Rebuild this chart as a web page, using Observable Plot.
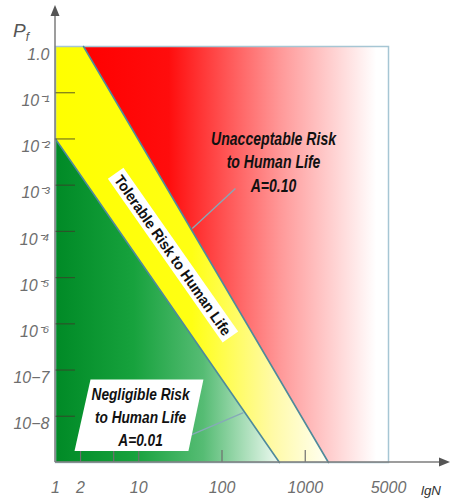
<!DOCTYPE html>
<html>
<head>
<meta charset="utf-8">
<script src="https://cdn.jsdelivr.net/npm/d3@7"></script>
<script src="https://cdn.jsdelivr.net/npm/@observablehq/plot@0.6"></script>
<style>
  html, body { margin: 0; padding: 0; background: #fff; }
</style>
</head>
<body>
<div id="chart"></div>
<script>
// ---------- data ----------
const nDomain = [1, 10000];
const pDomain = [1e-9, 1];

const nTicks = [1, 2, 5, 10, 100, 1000, 10000];
const nTickLabels = ["1", "2", "5", "10", "100", "1000", "5000"];
const nTickMarks = [2, 5, 10, 100, 1000];

const pTicks = [1, 1e-1, 1e-2, 1e-3, 1e-4, 1e-5, 1e-6, 1e-7, 1e-8];
const pTickLabels = ["1.0", "10⁻¹", "10⁻²", "10⁻³", "10⁻⁴", "10⁻⁵", "10⁻⁶", "10−7", "10−8"];
const pTickMarks = [1e-1, 1e-2, 1e-3, 1e-4, 1e-5, 1e-6, 1e-7, 1e-8];

// criterion lines (end points on the frame)
const upperLineN = [2.17, 1900];   // A = 0.10
const upperLineP = [1, 1e-9];
const lowerLineN = [1, 490];       // A = 0.01
const lowerLineP = [1e-2, 1e-9];

// region labels
const labelTexts = ["Unacceptable Risk\nto Human Life\nA=0.10", "Tolerable Risk to Human Life", "Negligible Risk\nto Human Life\nA=0.01"];
const labelN = [416, 25.4, 10.5];
const labelP = [3.4e-3, 3.0e-5, 1.05e-8];
const labelWidths = [125, 192, 98];   // width of first line (px, as in the picture)

// leader lines from labels to criterion lines
const leaderN1 = [145, 33.5];
const leaderP1 = [8.5e-4, 3.3e-9];
const leaderN2 = [44, 181];
const leaderP2 = [1.15e-4, 1.2e-8];

// ---------- derived tables ----------
const pt = (N, P) => ({N, P});
const redRegion = [
  pt(upperLineN[0], upperLineP[0]), pt(nDomain[1], pDomain[1]),
  pt(nDomain[1], pDomain[0]), pt(upperLineN[1], upperLineP[1])
];
const yellowRegion = [
  pt(nDomain[0], pDomain[1]), pt(upperLineN[0], upperLineP[0]),
  pt(upperLineN[1], upperLineP[1]), pt(lowerLineN[1], lowerLineP[1]),
  pt(lowerLineN[0], lowerLineP[0])
];
const greenRegion = [
  pt(lowerLineN[0], lowerLineP[0]), pt(lowerLineN[1], lowerLineP[1]),
  pt(nDomain[0], pDomain[0])
];
const upperLine = upperLineN.map((N, i) => pt(N, upperLineP[i]));
const lowerLine = lowerLineN.map((N, i) => pt(N, lowerLineP[i]));
const labels = labelTexts.map((t, i) => ({t, N: labelN[i], P: labelP[i]}));
const leaders = leaderN1.map((n, i) => ({x1: n, y1: leaderP1[i], x2: leaderN2[i], y2: leaderP2[i]}));

const labelFont = "'Liberation Sans', Arial, sans-serif";
const axisFont = "'Liberation Sans', Arial, sans-serif";

const plot = Plot.plot({
  width: 450,
  height: 498,
  marginLeft: 55,
  marginRight: 62,
  marginTop: 46,
  marginBottom: 36,
  style: {background: "#fff", fontFamily: axisFont, overflow: "visible"},
  x: {type: "log", domain: nDomain},
  y: {type: "log", domain: pDomain},
  marks: [
    Plot.line(redRegion, {x: "N", y: "P", fill: "url(#redGrad)", stroke: "none"}),
    Plot.line(yellowRegion, {x: "N", y: "P", fill: "url(#yellowGrad)", stroke: "none"}),
    Plot.line(greenRegion, {x: "N", y: "P", fill: "url(#greenGrad)", stroke: "none"}),
    Plot.frame({stroke: "#a6c6d4", strokeWidth: 1.5}),
    Plot.line(upperLine, {x: "N", y: "P", stroke: "#4f8a9b", strokeWidth: 1.6}),
    Plot.line(lowerLine, {x: "N", y: "P", stroke: "#4f8a9b", strokeWidth: 1.6}),
    Plot.ruleY(pTickMarks, {y: d => d, stroke: "#3d3d2a", strokeOpacity: 0.7, strokeWidth: 1.2, insetRight: 313}),
    Plot.ruleX(nTickMarks, {x: d => d, stroke: "#6f6f6f", strokeWidth: 1.2, insetTop: 404}),
    Plot.link(leaders, {x1: "x1", y1: "y1", x2: "x2", y2: "y2", stroke: "#86a9b8", strokeWidth: 1.3}),
    Plot.text([labels[0]], {x: "N", y: "P", text: "t", fontSize: 17.5, fontWeight: "bold", fontStyle: "italic", fontFamily: labelFont, lineHeight: 1.34, fill: "#111"}),
    Plot.text([labels[1]], {x: "N", y: "P", text: "t", fontSize: 15, fontWeight: "bold", fontFamily: labelFont, rotate: 55, fill: "#111"}),
    Plot.text([labels[2]], {x: "N", y: "P", text: "t", fontSize: 16, fontWeight: "bold", fontStyle: "italic", fontFamily: labelFont, lineHeight: 1.45, fill: "#111"}),
    Plot.axisY({ticks: pTicks, tickFormat: d => pTickLabels[pTicks.indexOf(d)], tickSize: 0, tickPadding: 6, dy: 8,
      fontSize: 16, fontStyle: "italic", color: "#6e6e6e", label: null}),
    Plot.axisX({ticks: nTicks, tickFormat: d => nTickLabels[nTicks.indexOf(d)], tickSize: 0, tickPadding: 19,
      fontSize: 16, fontStyle: "italic", color: "#6e6e6e", label: null})
  ]
});

document.getElementById("chart").appendChild(plot);

// ---------- decorations ----------
const svg = d3.select(plot);
const defs = svg.insert("defs", ":first-child");
function grad(id, stops) {
  const g = defs.append("linearGradient").attr("id", id)
    .attr("x1", 0).attr("x2", 1).attr("y1", 0).attr("y2", 0);
  stops.forEach(([o, c]) => g.append("stop").attr("offset", o).attr("stop-color", c));
}
grad("redGrad", [[0, "#ff0000"], [0.28, "#ff0d0d"], [0.65, "#ff9a9a"], [0.96, "#ffffff"], [1, "#ffffff"]]);
grad("yellowGrad", [[0, "#ffff00"], [0.5, "#ffff14"], [0.8, "#fffaa8"], [1, "#fffff4"]]);
grad("greenGrad", [[0, "#008a26"], [0.35, "#17a23d"], [0.66, "#56bc74"], [1, "#effaf2"]]);

// condense label glyphs (the original uses a narrow typeface)
function squeeze(el, firstLineWidth) {
  const spans = el.querySelectorAll("tspan");
  const items = spans.length ? Array.from(spans) : [el];
  const f = firstLineWidth / items[0].getComputedTextLength();
  items.forEach(s => {
    s.setAttribute("textLength", s.getComputedTextLength() * f);
    s.setAttribute("lengthAdjust", "spacingAndGlyphs");
  });
}

svg.selectAll("text").each(function () {
  const s = this.textContent;
  const idx = labelTexts.findIndex(t => t.replace(/\n/g, "") === s);
  if (idx < 0) return;
  squeeze(this, labelWidths[idx]);
  const b = this.getBBox();
  if (idx === 1) {
    d3.select(this.parentNode).insert("rect", () => this)
      .attr("x", b.x - 4).attr("y", b.y - 1).attr("width", b.width + 8).attr("height", b.height + 2)
      .attr("fill", "#fff").attr("transform", this.getAttribute("transform"));
  } else if (idx === 2) {
    const x0 = b.x, x1 = b.x + b.width, y0 = b.y - 6, y1 = b.y + b.height + 2;
    d3.select(this.parentNode).insert("path", () => this)
      .attr("d", `M${x0 - 1},${y0}L${x1 + 13},${y0}L${x1 - 2},${y1}L${x0 - 17},${y1}Z`)
      .attr("fill", "#fff").attr("transform", this.getAttribute("transform"));
  }
});

// axis lines with arrow heads
const sx = plot.scale("x"), sy = plot.scale("y");
const ox = sx.apply(nDomain[0]), oy = sy.apply(pDomain[0]);
const ax = svg.append("g");
ax.append("line").attr("x1", ox).attr("y1", oy).attr("x2", ox).attr("y2", 14).attr("stroke", "#7d7d7d").attr("stroke-width", 1.5);
ax.append("path").attr("d", `M${ox},5L${ox - 4.5},16L${ox + 4.5},16Z`).attr("fill", "#555");
ax.append("line").attr("x1", ox).attr("y1", oy).attr("x2", 442).attr("y2", oy).attr("stroke", "#7d7d7d").attr("stroke-width", 1.5);
ax.append("path").attr("d", `M450,${oy}L439,${oy - 4.5}L439,${oy + 4.5}Z`).attr("fill", "#555");

// axis titles
const pf = svg.append("text").attr("x", 21).attr("y", 37).attr("fill", "#555")
  .attr("font-family", axisFont).attr("font-style", "italic").attr("font-size", 19);
pf.append("tspan").text("P");
pf.append("tspan").attr("font-size", 12).attr("dy", 4).text("f");
svg.append("text").attr("x", 431).attr("y", 495).attr("text-anchor", "middle")
  .attr("font-family", axisFont).attr("font-style", "italic").attr("font-size", 13).attr("fill", "#333")
  .attr("textLength", 20).attr("lengthAdjust", "spacingAndGlyphs").text("lgN");
</script>
</body>
</html>
